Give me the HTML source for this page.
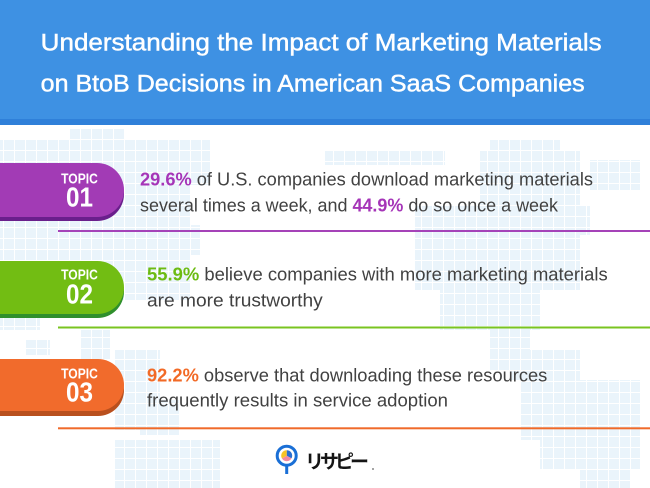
<!DOCTYPE html>
<html>
<head>
<meta charset="utf-8">
<style>
html,body{margin:0;padding:0;background:#fff;}
body{width:650px;height:488px;overflow:hidden;}
svg{display:block;}
</style>
</head>
<body>
<svg width="650" height="488" viewBox="0 0 650 488" xmlns="http://www.w3.org/2000/svg">
<defs>
<pattern id="g" x="4" y="8" width="11" height="11" patternUnits="userSpaceOnUse">
<rect width="10" height="10" fill="#eaf4fb"/>
</pattern>
</defs>
<rect width="650" height="488" fill="#fff"/>

<!-- world map dot grid (approx) -->
<g fill="url(#g)">
<rect x="70" y="129" width="55" height="11"/>
<rect x="0" y="140" width="210" height="45"/>
<rect x="0" y="185" width="190" height="40"/>
<rect x="0" y="225" width="200" height="30"/>
<rect x="0" y="255" width="120" height="20"/>
<rect x="120" y="255" width="70" height="45"/>
<rect x="0" y="300" width="40" height="30"/>
<rect x="25" y="340" width="25" height="15"/>
<rect x="80" y="330" width="30" height="30"/>
<rect x="115" y="350" width="45" height="80"/>
<rect x="140" y="400" width="40" height="35"/>
<rect x="115" y="440" width="105" height="48"/>
<rect x="490" y="140" width="70" height="10"/>
<rect x="325" y="150" width="120" height="15"/>
<rect x="480" y="150" width="100" height="55"/>
<rect x="590" y="160" width="50" height="30"/>
<rect x="415" y="205" width="175" height="30"/>
<rect x="415" y="235" width="165" height="55"/>
<rect x="440" y="290" width="100" height="40"/>
<rect x="490" y="330" width="40" height="40"/>
<rect x="510" y="350" width="70" height="30"/>
<rect x="520" y="380" width="120" height="60"/>
<rect x="540" y="440" width="100" height="30"/>
<rect x="580" y="470" width="50" height="18"/>
</g>

<!-- header -->
<rect x="0" y="0" width="650" height="125" fill="#2f80d9"/>
<rect x="0" y="0" width="650" height="119" fill="#3e91e3"/>
<g font-family="'Liberation Sans', sans-serif" font-size="24" fill="#fff" stroke="#fff" stroke-width="0.45">
<text x="40.7" y="50.7" textLength="561" lengthAdjust="spacingAndGlyphs">Understanding the Impact of Marketing Materials</text>
<text x="40.7" y="91.7" textLength="544" lengthAdjust="spacingAndGlyphs">on BtoB Decisions in American SaaS Companies</text>
</g>

<!-- separator lines -->
<rect x="58" y="230" width="592" height="2" fill="#a543b8"/>
<rect x="58" y="326.5" width="592" height="2" fill="#7ac420"/>
<rect x="58" y="427.3" width="592" height="2" fill="#f06a2a"/>

<!-- pills -->
<rect x="-40" y="167" width="164" height="54" rx="27" fill="#6a1f8c"/>
<rect x="-40" y="163" width="164" height="54" rx="27" fill="#a23bb5"/>
<rect x="-40" y="265" width="164" height="53" rx="26.5" fill="#2f8f2c"/>
<rect x="-40" y="261" width="164" height="53" rx="26.5" fill="#72bd13"/>
<rect x="-40" y="364" width="164" height="52" rx="26" fill="#b9501e"/>
<rect x="-40" y="359" width="164" height="52" rx="26" fill="#f16b2c"/>

<g font-family="'Liberation Sans', sans-serif" font-weight="bold" fill="#fff" text-anchor="middle">
<text x="79.5" y="183.3" font-size="15" textLength="36.7" lengthAdjust="spacingAndGlyphs">TOPIC</text>
<text x="79.5" y="206.7" font-size="27.5" textLength="27" lengthAdjust="spacingAndGlyphs">01</text>
<text x="79.5" y="279.3" font-size="15" textLength="36.7" lengthAdjust="spacingAndGlyphs">TOPIC</text>
<text x="79.5" y="303.3" font-size="27.5" textLength="27" lengthAdjust="spacingAndGlyphs">02</text>
<text x="79.5" y="378.3" font-size="15" textLength="36.7" lengthAdjust="spacingAndGlyphs">TOPIC</text>
<text x="79.5" y="401.7" font-size="27.5" textLength="27" lengthAdjust="spacingAndGlyphs">03</text>
</g>

<!-- body text -->
<g font-family="'Liberation Sans', sans-serif" font-size="18.5" fill="#414141">
<text x="140" y="185.7" textLength="453" lengthAdjust="spacingAndGlyphs"><tspan font-weight="bold" fill="#a535b8">29.6%</tspan> of U.S. companies download marketing materials</text>
<text x="140" y="211.7" textLength="418" lengthAdjust="spacingAndGlyphs">several times a week, and <tspan font-weight="bold" fill="#a535b8">44.9%</tspan> do so once a week</text>
<text x="147" y="280.7" textLength="460.7" lengthAdjust="spacingAndGlyphs"><tspan font-weight="bold" fill="#6cbb12">55.9%</tspan> believe companies with more marketing materials</text>
<text x="147" y="306.7" textLength="175.7" lengthAdjust="spacingAndGlyphs">are more trustworthy</text>
<text x="147" y="381.7" textLength="400.3" lengthAdjust="spacingAndGlyphs"><tspan font-weight="bold" fill="#f26a26">92.2%</tspan> observe that downloading these resources</text>
<text x="147" y="406.7" textLength="301" lengthAdjust="spacingAndGlyphs">frequently results in service adoption</text>
</g>

<!-- logo -->
<g>
<line x1="286.7" y1="465" x2="286.7" y2="474" stroke="#1a6fd6" stroke-width="3"/>
<circle cx="286.7" cy="455.7" r="9.5" fill="#fff" stroke="#1a6fd6" stroke-width="3"/>
<path d="M286.7 455.7 L286.7 450.2 A5.5 5.5 0 0 1 291.5 458.4 Z" fill="#2a6fd0"/>
<path d="M286.7 455.7 L291.5 458.4 A5.5 5.5 0 0 1 281.9 458.4 Z" fill="#f28aa0"/>
<path d="M286.7 455.7 L281.9 458.4 A5.5 5.5 0 0 1 286.7 450.2 Z" fill="#f7c325"/>
<text x="305" y="468" font-family="'Noto Sans CJK JP',sans-serif" font-weight="bold" font-size="19" fill="#151515" letter-spacing="-4">リサピー</text>
<circle cx="373" cy="469" r="1" fill="#888"/>
</g>
</svg>
</body>
</html>
